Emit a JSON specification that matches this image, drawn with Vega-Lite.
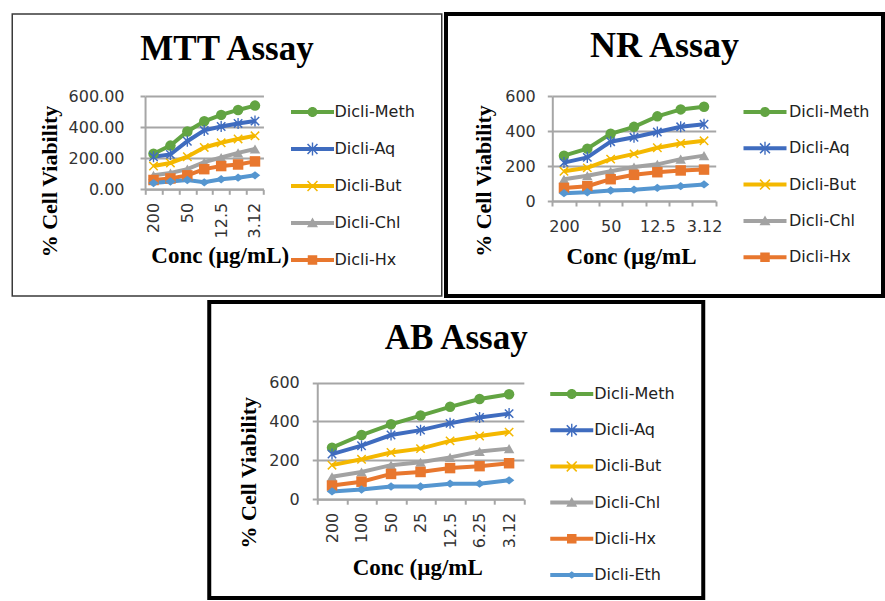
{
  "$schema": "https://vega.github.io/schema/vega-lite/v6.json",
  "background": "white",
  "padding": {"left": 3.25, "top": 12, "right": 0, "bottom": 0},
  "data": {"values": [
    {"assay":"MTT","series":"Dicli-Meth","conc":"200","value":229},
    {"assay":"MTT","series":"Dicli-Meth","conc":"100","value":282},
    {"assay":"MTT","series":"Dicli-Meth","conc":"50","value":373},
    {"assay":"MTT","series":"Dicli-Meth","conc":"25","value":439},
    {"assay":"MTT","series":"Dicli-Meth","conc":"12.5","value":480},
    {"assay":"MTT","series":"Dicli-Meth","conc":"6.25","value":512},
    {"assay":"MTT","series":"Dicli-Meth","conc":"3.12","value":540},
    {"assay":"MTT","series":"Dicli-Aq","conc":"200","value":210},
    {"assay":"MTT","series":"Dicli-Aq","conc":"100","value":225},
    {"assay":"MTT","series":"Dicli-Aq","conc":"50","value":310},
    {"assay":"MTT","series":"Dicli-Aq","conc":"25","value":380},
    {"assay":"MTT","series":"Dicli-Aq","conc":"12.5","value":405},
    {"assay":"MTT","series":"Dicli-Aq","conc":"6.25","value":425},
    {"assay":"MTT","series":"Dicli-Aq","conc":"3.12","value":440},
    {"assay":"MTT","series":"Dicli-But","conc":"200","value":150},
    {"assay":"MTT","series":"Dicli-But","conc":"100","value":170},
    {"assay":"MTT","series":"Dicli-But","conc":"50","value":210},
    {"assay":"MTT","series":"Dicli-But","conc":"25","value":270},
    {"assay":"MTT","series":"Dicli-But","conc":"12.5","value":300},
    {"assay":"MTT","series":"Dicli-But","conc":"6.25","value":325},
    {"assay":"MTT","series":"Dicli-But","conc":"3.12","value":345},
    {"assay":"MTT","series":"Dicli-Chl","conc":"200","value":90},
    {"assay":"MTT","series":"Dicli-Chl","conc":"100","value":105},
    {"assay":"MTT","series":"Dicli-Chl","conc":"50","value":130},
    {"assay":"MTT","series":"Dicli-Chl","conc":"25","value":175},
    {"assay":"MTT","series":"Dicli-Chl","conc":"12.5","value":205},
    {"assay":"MTT","series":"Dicli-Chl","conc":"6.25","value":235},
    {"assay":"MTT","series":"Dicli-Chl","conc":"3.12","value":260},
    {"assay":"MTT","series":"Dicli-Hx","conc":"200","value":60},
    {"assay":"MTT","series":"Dicli-Hx","conc":"100","value":70},
    {"assay":"MTT","series":"Dicli-Hx","conc":"50","value":90},
    {"assay":"MTT","series":"Dicli-Hx","conc":"25","value":130},
    {"assay":"MTT","series":"Dicli-Hx","conc":"12.5","value":150},
    {"assay":"MTT","series":"Dicli-Hx","conc":"6.25","value":160},
    {"assay":"MTT","series":"Dicli-Hx","conc":"3.12","value":180},
    {"assay":"MTT","series":"Dicli-Eth","conc":"200","value":40},
    {"assay":"MTT","series":"Dicli-Eth","conc":"100","value":50},
    {"assay":"MTT","series":"Dicli-Eth","conc":"50","value":60},
    {"assay":"MTT","series":"Dicli-Eth","conc":"25","value":45},
    {"assay":"MTT","series":"Dicli-Eth","conc":"12.5","value":65},
    {"assay":"MTT","series":"Dicli-Eth","conc":"6.25","value":75},
    {"assay":"MTT","series":"Dicli-Eth","conc":"3.12","value":90},
    {"assay":"NR","series":"Dicli-Meth","conc":"200","value":260},
    {"assay":"NR","series":"Dicli-Meth","conc":"100","value":300},
    {"assay":"NR","series":"Dicli-Meth","conc":"50","value":385},
    {"assay":"NR","series":"Dicli-Meth","conc":"25","value":425},
    {"assay":"NR","series":"Dicli-Meth","conc":"12.5","value":485},
    {"assay":"NR","series":"Dicli-Meth","conc":"6.25","value":525},
    {"assay":"NR","series":"Dicli-Meth","conc":"3.12","value":540},
    {"assay":"NR","series":"Dicli-Aq","conc":"200","value":220},
    {"assay":"NR","series":"Dicli-Aq","conc":"100","value":250},
    {"assay":"NR","series":"Dicli-Aq","conc":"50","value":340},
    {"assay":"NR","series":"Dicli-Aq","conc":"25","value":365},
    {"assay":"NR","series":"Dicli-Aq","conc":"12.5","value":395},
    {"assay":"NR","series":"Dicli-Aq","conc":"6.25","value":425},
    {"assay":"NR","series":"Dicli-Aq","conc":"3.12","value":440},
    {"assay":"NR","series":"Dicli-But","conc":"200","value":170},
    {"assay":"NR","series":"Dicli-But","conc":"100","value":190},
    {"assay":"NR","series":"Dicli-But","conc":"50","value":240},
    {"assay":"NR","series":"Dicli-But","conc":"25","value":270},
    {"assay":"NR","series":"Dicli-But","conc":"12.5","value":305},
    {"assay":"NR","series":"Dicli-But","conc":"6.25","value":330},
    {"assay":"NR","series":"Dicli-But","conc":"3.12","value":345},
    {"assay":"NR","series":"Dicli-Chl","conc":"200","value":125},
    {"assay":"NR","series":"Dicli-Chl","conc":"100","value":145},
    {"assay":"NR","series":"Dicli-Chl","conc":"50","value":170},
    {"assay":"NR","series":"Dicli-Chl","conc":"25","value":195},
    {"assay":"NR","series":"Dicli-Chl","conc":"12.5","value":210},
    {"assay":"NR","series":"Dicli-Chl","conc":"6.25","value":240},
    {"assay":"NR","series":"Dicli-Chl","conc":"3.12","value":260},
    {"assay":"NR","series":"Dicli-Hx","conc":"200","value":75},
    {"assay":"NR","series":"Dicli-Hx","conc":"100","value":85},
    {"assay":"NR","series":"Dicli-Hx","conc":"50","value":125},
    {"assay":"NR","series":"Dicli-Hx","conc":"25","value":150},
    {"assay":"NR","series":"Dicli-Hx","conc":"12.5","value":165},
    {"assay":"NR","series":"Dicli-Hx","conc":"6.25","value":175},
    {"assay":"NR","series":"Dicli-Hx","conc":"3.12","value":180},
    {"assay":"NR","series":"Dicli-Eth","conc":"200","value":45},
    {"assay":"NR","series":"Dicli-Eth","conc":"100","value":50},
    {"assay":"NR","series":"Dicli-Eth","conc":"50","value":60},
    {"assay":"NR","series":"Dicli-Eth","conc":"25","value":65},
    {"assay":"NR","series":"Dicli-Eth","conc":"12.5","value":75},
    {"assay":"NR","series":"Dicli-Eth","conc":"6.25","value":85},
    {"assay":"NR","series":"Dicli-Eth","conc":"3.12","value":95},
    {"assay":"AB","series":"Dicli-Meth","conc":"200","value":265},
    {"assay":"AB","series":"Dicli-Meth","conc":"100","value":330},
    {"assay":"AB","series":"Dicli-Meth","conc":"50","value":385},
    {"assay":"AB","series":"Dicli-Meth","conc":"25","value":430},
    {"assay":"AB","series":"Dicli-Meth","conc":"12.5","value":475},
    {"assay":"AB","series":"Dicli-Meth","conc":"6.25","value":515},
    {"assay":"AB","series":"Dicli-Meth","conc":"3.12","value":540},
    {"assay":"AB","series":"Dicli-Aq","conc":"200","value":232},
    {"assay":"AB","series":"Dicli-Aq","conc":"100","value":275},
    {"assay":"AB","series":"Dicli-Aq","conc":"50","value":330},
    {"assay":"AB","series":"Dicli-Aq","conc":"25","value":355},
    {"assay":"AB","series":"Dicli-Aq","conc":"12.5","value":390},
    {"assay":"AB","series":"Dicli-Aq","conc":"6.25","value":420},
    {"assay":"AB","series":"Dicli-Aq","conc":"3.12","value":440},
    {"assay":"AB","series":"Dicli-But","conc":"200","value":175},
    {"assay":"AB","series":"Dicli-But","conc":"100","value":205},
    {"assay":"AB","series":"Dicli-But","conc":"50","value":240},
    {"assay":"AB","series":"Dicli-But","conc":"25","value":260},
    {"assay":"AB","series":"Dicli-But","conc":"12.5","value":300},
    {"assay":"AB","series":"Dicli-But","conc":"6.25","value":325},
    {"assay":"AB","series":"Dicli-But","conc":"3.12","value":345},
    {"assay":"AB","series":"Dicli-Chl","conc":"200","value":115},
    {"assay":"AB","series":"Dicli-Chl","conc":"100","value":140},
    {"assay":"AB","series":"Dicli-Chl","conc":"50","value":175},
    {"assay":"AB","series":"Dicli-Chl","conc":"25","value":190},
    {"assay":"AB","series":"Dicli-Chl","conc":"12.5","value":215},
    {"assay":"AB","series":"Dicli-Chl","conc":"6.25","value":245},
    {"assay":"AB","series":"Dicli-Chl","conc":"3.12","value":260},
    {"assay":"AB","series":"Dicli-Hx","conc":"200","value":70},
    {"assay":"AB","series":"Dicli-Hx","conc":"100","value":90},
    {"assay":"AB","series":"Dicli-Hx","conc":"50","value":130},
    {"assay":"AB","series":"Dicli-Hx","conc":"25","value":140},
    {"assay":"AB","series":"Dicli-Hx","conc":"12.5","value":160},
    {"assay":"AB","series":"Dicli-Hx","conc":"6.25","value":170},
    {"assay":"AB","series":"Dicli-Hx","conc":"3.12","value":185},
    {"assay":"AB","series":"Dicli-Eth","conc":"200","value":40},
    {"assay":"AB","series":"Dicli-Eth","conc":"100","value":50},
    {"assay":"AB","series":"Dicli-Eth","conc":"50","value":65},
    {"assay":"AB","series":"Dicli-Eth","conc":"25","value":65},
    {"assay":"AB","series":"Dicli-Eth","conc":"12.5","value":80},
    {"assay":"AB","series":"Dicli-Eth","conc":"6.25","value":80},
    {"assay":"AB","series":"Dicli-Eth","conc":"3.12","value":97}
  ]},
  "spacing": 2,
  "vconcat": [
    {
      "spacing": 0.75,
      "hconcat": [
        {
          "width": 429.5, "height": 282,
          "view": {"stroke": "#3a3a3a", "strokeWidth": 1.5},
          "title": {"text": "MTT Assay", "offset": -52.5},
          "transform": [{"filter": "datum.assay === 'MTT'"}],
          "encoding": {
            "x": {"field": "conc", "type": "ordinal", "sort": ["200","100","50","25","12.5","6.25","3.12"], "bandPosition": 0.5,
              "scale": {"type": "band", "range": [132.8, 251.2], "paddingInner": 0, "paddingOuter": 0},
              "axis": {"offset": -106.7, "labelAngle": -90, "labelPadding": 8,
                "labelExpr": "indexof(['200','50','12.5','3.12'], datum.label) >= 0 ? datum.label : ''",
                "title": "Conc (µg/mL)", "titleX": 207.5, "titleY": 72.7}},
            "y": {"field": "value", "type": "quantitative",
              "scale": {"domain": [0, 600], "range": [175.3, 82.3], "nice": false},
              "axis": {"offset": -132.8, "values": [0, 200, 400, 600], "format": ".2f", "labelPadding": 16,
                "title": "% Cell Viability", "titleX": -95.5, "titleY": 167}}
          },
          "layer": [
            {"mark": {"type": "line", "strokeWidth": 4},
             "encoding": {"color": {"field": "series", "type": "nominal", "legend": null,
               "scale": {"domain": ["Dicli-Meth","Dicli-Aq","Dicli-But","Dicli-Chl","Dicli-Hx","Dicli-Eth"], "range": ["#62a442","#3f6cbf","#f4b800","#a2a2a2","#e8772e","#5596d0"]}}}},
            {"mark": {"type": "point", "filled": true, "opacity": 1, "size": 110, "strokeWidth": 0},
             "transform": [{"calculate": "datum.series", "as": "mk"}],
             "encoding": {
               "color": {"field": "series", "type": "nominal", "legend": null,
                 "scale": {"domain": ["Dicli-Meth","Dicli-Aq","Dicli-But","Dicli-Chl","Dicli-Hx","Dicli-Eth"], "range": ["#62a442","#3f6cbf","#f4b800","#a2a2a2","#e8772e","#5596d0"]}},
               "shape": {"field": "mk", "type": "nominal", "legend": null,
                 "scale": {"domain": ["Dicli-Meth","Dicli-Aq","Dicli-But","Dicli-Chl","Dicli-Hx","Dicli-Eth"],
                   "range": ["circle",
                     "M0,-0.2L0.7,-0.9L0.9,-0.7L0.2,0L0.9,0.7L0.7,0.9L0,0.2L-0.7,0.9L-0.9,0.7L-0.2,0L-0.9,-0.7L-0.7,-0.9Z M-0.13,-1.05H0.13V1.05H-0.13Z",
                     "M0,-0.2L0.7,-0.9L0.9,-0.7L0.2,0L0.9,0.7L0.7,0.9L0,0.2L-0.7,0.9L-0.9,0.7L-0.2,0L-0.9,-0.7L-0.7,-0.9Z",
                     "triangle-up", "square", "M0,-0.8L1,0L0,0.8L-1,0Z"]}}}},
            {"mark": {"type": "point", "filled": true, "opacity": 1},
             "transform": [{"filter": "false"}],
             "encoding": {
               "color": {"field": "series", "type": "nominal",
                 "scale": {"domain": ["Dicli-Meth","Dicli-Aq","Dicli-But","Dicli-Chl","Dicli-Hx","Dicli-Eth"], "range": ["#62a442","#3f6cbf","#f4b800","#a2a2a2","#e8772e","#5596d0"]},
                 "legend": {"title": null, "values": ["Dicli-Meth","Dicli-Aq","Dicli-But","Dicli-Chl","Dicli-Hx"], "legendX": 292.25, "legendY": 90, "labelOffset": 14}},
               "shape": {"field": "series", "type": "nominal",
                 "scale": {"domain": ["Dicli-Meth","Dicli-Aq","Dicli-But","Dicli-Chl","Dicli-Hx","Dicli-Eth"],
                   "range": [
                     "M-4.3,-0.4H4.3V0.4H-4.3Z M-1,0A1,1 0 1,1 1,0A1,1 0 1,1 -1,0Z",
                     "M-4.3,-0.4H4.3V0.4H-4.3Z M0,-0.22L0.88,-1.1L1.1,-0.88L0.22,0L1.1,0.88L0.88,1.1L0,0.22L-0.88,1.1L-1.1,0.88L-0.22,0L-1.1,-0.88L-0.88,-1.1Z M-0.14,-1.3H0.14V1.3H-0.14Z",
                     "M-4.3,-0.4H4.3V0.4H-4.3Z M0,-0.22L0.88,-1.1L1.1,-0.88L0.22,0L1.1,0.88L0.88,1.1L0,0.22L-0.88,1.1L-1.1,0.88L-0.22,0L-1.1,-0.88L-0.88,-1.1Z",
                     "M-4.3,-0.4H4.3V0.4H-4.3Z M0,-1.1L1.1,0.85L-1.1,0.85Z",
                     "M-4.3,-0.4H4.3V0.4H-4.3Z M-0.95,-0.95H0.95V0.95H-0.95Z",
                     "M-4.3,-0.4H4.3V0.4H-4.3Z M0,-0.75L1,0L0,0.75L-1,0Z"]},
                 "legend": {"title": null, "values": ["Dicli-Meth","Dicli-Aq","Dicli-But","Dicli-Chl","Dicli-Hx"], "legendX": 292.25, "legendY": 90, "labelOffset": 14}}}}
          ],
          "resolve": {"scale": {"color": "independent", "shape": "independent"}}
        },
        {
          "width": 437, "height": 282,
          "view": {"stroke": "#000000", "strokeWidth": 4},
          "title": {"text": "NR Assay", "offset": -51, "fontSize": 36},
          "transform": [{"filter": "datum.assay === 'NR'"}],
          "encoding": {
            "x": {"field": "conc", "type": "ordinal", "sort": ["200","100","50","25","12.5","6.25","3.12"], "bandPosition": 0.5,
              "scale": {"type": "band", "range": [106.3, 269.7], "paddingInner": 0, "paddingOuter": 0},
              "axis": {"offset": -95, "labelAngle": 0, "labelPadding": 12,
                "labelExpr": "indexof(['200','50','12.5','3.12'], datum.label) >= 0 ? datum.label : ''",
                "title": "Conc (µg/mL", "titleX": 185, "titleY": 62}},
            "y": {"field": "value", "type": "quantitative",
              "scale": {"domain": [0, 600], "range": [187, 82.3], "nice": false},
              "axis": {"offset": -106.3, "values": [0, 200, 400, 600], "format": "d", "labelPadding": 12,
                "title": "% Cell Viability", "titleX": -69.3, "titleY": 166.5}}
          },
          "layer": [
            {"mark": {"type": "line", "strokeWidth": 4},
             "encoding": {"color": {"field": "series", "type": "nominal", "legend": null,
               "scale": {"domain": ["Dicli-Meth","Dicli-Aq","Dicli-But","Dicli-Chl","Dicli-Hx","Dicli-Eth"], "range": ["#62a442","#3f6cbf","#f4b800","#a2a2a2","#e8772e","#5596d0"]}}}},
            {"mark": {"type": "point", "filled": true, "opacity": 1, "size": 110, "strokeWidth": 0},
             "transform": [{"calculate": "datum.series", "as": "mk"}],
             "encoding": {
               "color": {"field": "series", "type": "nominal", "legend": null,
                 "scale": {"domain": ["Dicli-Meth","Dicli-Aq","Dicli-But","Dicli-Chl","Dicli-Hx","Dicli-Eth"], "range": ["#62a442","#3f6cbf","#f4b800","#a2a2a2","#e8772e","#5596d0"]}},
               "shape": {"field": "mk", "type": "nominal", "legend": null,
                 "scale": {"domain": ["Dicli-Meth","Dicli-Aq","Dicli-But","Dicli-Chl","Dicli-Hx","Dicli-Eth"],
                   "range": ["circle",
                     "M0,-0.2L0.7,-0.9L0.9,-0.7L0.2,0L0.9,0.7L0.7,0.9L0,0.2L-0.7,0.9L-0.9,0.7L-0.2,0L-0.9,-0.7L-0.7,-0.9Z M-0.13,-1.05H0.13V1.05H-0.13Z",
                     "M0,-0.2L0.7,-0.9L0.9,-0.7L0.2,0L0.9,0.7L0.7,0.9L0,0.2L-0.7,0.9L-0.9,0.7L-0.2,0L-0.9,-0.7L-0.7,-0.9Z",
                     "triangle-up", "square", "M0,-0.8L1,0L0,0.8L-1,0Z"]}}}},
            {"mark": {"type": "point", "filled": true, "opacity": 1},
             "transform": [{"filter": "false"}],
             "encoding": {
               "color": {"field": "series", "type": "nominal",
                 "scale": {"domain": ["Dicli-Meth","Dicli-Aq","Dicli-But","Dicli-Chl","Dicli-Hx","Dicli-Eth"], "range": ["#62a442","#3f6cbf","#f4b800","#a2a2a2","#e8772e","#5596d0"]},
                 "legend": {"title": null, "values": ["Dicli-Meth","Dicli-Aq","Dicli-But","Dicli-Chl","Dicli-Hx"], "legendX": 311, "legendY": 90, "labelOffset": 16, "rowPadding": 20.3}},
               "shape": {"field": "series", "type": "nominal",
                 "scale": {"domain": ["Dicli-Meth","Dicli-Aq","Dicli-But","Dicli-Chl","Dicli-Hx","Dicli-Eth"],
                   "range": [
                     "M-4.3,-0.4H4.3V0.4H-4.3Z M-1,0A1,1 0 1,1 1,0A1,1 0 1,1 -1,0Z",
                     "M-4.3,-0.4H4.3V0.4H-4.3Z M0,-0.22L0.88,-1.1L1.1,-0.88L0.22,0L1.1,0.88L0.88,1.1L0,0.22L-0.88,1.1L-1.1,0.88L-0.22,0L-1.1,-0.88L-0.88,-1.1Z M-0.14,-1.3H0.14V1.3H-0.14Z",
                     "M-4.3,-0.4H4.3V0.4H-4.3Z M0,-0.22L0.88,-1.1L1.1,-0.88L0.22,0L1.1,0.88L0.88,1.1L0,0.22L-0.88,1.1L-1.1,0.88L-0.22,0L-1.1,-0.88L-0.88,-1.1Z",
                     "M-4.3,-0.4H4.3V0.4H-4.3Z M0,-1.1L1.1,0.85L-1.1,0.85Z",
                     "M-4.3,-0.4H4.3V0.4H-4.3Z M-0.95,-0.95H0.95V0.95H-0.95Z",
                     "M-4.3,-0.4H4.3V0.4H-4.3Z M0,-0.75L1,0L0,0.75L-1,0Z"]},
                 "legend": {"title": null, "values": ["Dicli-Meth","Dicli-Aq","Dicli-But","Dicli-Chl","Dicli-Hx"], "legendX": 311, "legendY": 90, "labelOffset": 16, "rowPadding": 20.3}}}}
          ],
          "resolve": {"scale": {"color": "independent", "shape": "independent"}}
        }
      ]
    },
    {
      "spacing": 0,
      "hconcat": [
        {"width": 186.2, "height": 1, "data": {"values": []}, "mark": "point"},
        {
          "width": 494, "height": 296,
          "view": {"stroke": "#000000", "strokeWidth": 4},
          "title": {"text": "AB Assay", "offset": -54},
          "transform": [{"filter": "datum.assay === 'AB'"}],
          "encoding": {
            "x": {"field": "conc", "type": "ordinal", "sort": ["200","100","50","25","12.5","6.25","3.12"], "bandPosition": 0.5,
              "scale": {"type": "band", "range": [108, 314.6], "paddingInner": 0, "paddingOuter": 0},
              "axis": {"offset": -98.8, "labelAngle": -90, "labelPadding": 8,
                "title": "Conc (µg/mL", "titleX": 208, "titleY": 75}},
            "y": {"field": "value", "type": "quantitative",
              "scale": {"domain": [0, 600], "range": [197.2, 80.5], "nice": false},
              "axis": {"offset": -108, "values": [0, 200, 400, 600], "format": "d", "labelPadding": 13,
                "title": "% Cell Viability", "titleX": -68.5, "titleY": 170.2}}
          },
          "layer": [
            {"mark": {"type": "line", "strokeWidth": 4},
             "encoding": {"color": {"field": "series", "type": "nominal", "legend": null,
               "scale": {"domain": ["Dicli-Meth","Dicli-Aq","Dicli-But","Dicli-Chl","Dicli-Hx","Dicli-Eth"], "range": ["#62a442","#3f6cbf","#f4b800","#a2a2a2","#e8772e","#5596d0"]}}}},
            {"mark": {"type": "point", "filled": true, "opacity": 1, "size": 110, "strokeWidth": 0},
             "transform": [{"calculate": "datum.series", "as": "mk"}],
             "encoding": {
               "color": {"field": "series", "type": "nominal", "legend": null,
                 "scale": {"domain": ["Dicli-Meth","Dicli-Aq","Dicli-But","Dicli-Chl","Dicli-Hx","Dicli-Eth"], "range": ["#62a442","#3f6cbf","#f4b800","#a2a2a2","#e8772e","#5596d0"]}},
               "shape": {"field": "mk", "type": "nominal", "legend": null,
                 "scale": {"domain": ["Dicli-Meth","Dicli-Aq","Dicli-But","Dicli-Chl","Dicli-Hx","Dicli-Eth"],
                   "range": ["circle",
                     "M0,-0.2L0.7,-0.9L0.9,-0.7L0.2,0L0.9,0.7L0.7,0.9L0,0.2L-0.7,0.9L-0.9,0.7L-0.2,0L-0.9,-0.7L-0.7,-0.9Z M-0.13,-1.05H0.13V1.05H-0.13Z",
                     "M0,-0.2L0.7,-0.9L0.9,-0.7L0.2,0L0.9,0.7L0.7,0.9L0,0.2L-0.7,0.9L-0.9,0.7L-0.2,0L-0.9,-0.7L-0.7,-0.9Z",
                     "triangle-up", "square", "M0,-0.8L1,0L0,0.8L-1,0Z"]}}}},
            {"mark": {"type": "point", "filled": true, "opacity": 1},
             "transform": [{"filter": "false"}],
             "encoding": {
               "color": {"field": "series", "type": "nominal",
                 "scale": {"domain": ["Dicli-Meth","Dicli-Aq","Dicli-But","Dicli-Chl","Dicli-Hx","Dicli-Eth"], "range": ["#62a442","#3f6cbf","#f4b800","#a2a2a2","#e8772e","#5596d0"]},
                 "legend": {"title": null, "legendX": 354.5, "legendY": 84, "labelOffset": 14.5, "rowPadding": 20.2}},
               "shape": {"field": "series", "type": "nominal",
                 "scale": {"domain": ["Dicli-Meth","Dicli-Aq","Dicli-But","Dicli-Chl","Dicli-Hx","Dicli-Eth"],
                   "range": [
                     "M-4.3,-0.4H4.3V0.4H-4.3Z M-1,0A1,1 0 1,1 1,0A1,1 0 1,1 -1,0Z",
                     "M-4.3,-0.4H4.3V0.4H-4.3Z M0,-0.22L0.88,-1.1L1.1,-0.88L0.22,0L1.1,0.88L0.88,1.1L0,0.22L-0.88,1.1L-1.1,0.88L-0.22,0L-1.1,-0.88L-0.88,-1.1Z M-0.14,-1.3H0.14V1.3H-0.14Z",
                     "M-4.3,-0.4H4.3V0.4H-4.3Z M0,-0.22L0.88,-1.1L1.1,-0.88L0.22,0L1.1,0.88L0.88,1.1L0,0.22L-0.88,1.1L-1.1,0.88L-0.22,0L-1.1,-0.88L-0.88,-1.1Z",
                     "M-4.3,-0.4H4.3V0.4H-4.3Z M0,-1.1L1.1,0.85L-1.1,0.85Z",
                     "M-4.3,-0.4H4.3V0.4H-4.3Z M-0.95,-0.95H0.95V0.95H-0.95Z",
                     "M-4.3,-0.4H4.3V0.4H-4.3Z M0,-0.75L1,0L0,0.75L-1,0Z"]},
                 "legend": {"title": null, "legendX": 354.5, "legendY": 84, "labelOffset": 14.5, "rowPadding": 20.2}}}}
          ],
          "resolve": {"scale": {"color": "independent", "shape": "independent"}}
        }
      ]
    }
  ],
  "config": {
    "view": {"stroke": null},
    "font": "DejaVu Sans",
    "title": {"font": "Liberation Serif", "fontSize": 35, "fontWeight": "bold", "color": "#000000", "anchor": "middle", "frame": "group", "baseline": "alphabetic"},
    "axis": {"domainColor": "#a6a6a6", "domainWidth": 2, "tickColor": "#a6a6a6", "tickWidth": 2, "tickSize": 5,
      "gridColor": "#a6a6a6", "gridWidth": 2, "labelFont": "DejaVu Sans", "labelFontSize": 16, "labelColor": "#333333",
      "labelOverlap": false, "titleFont": "Liberation Serif", "titleFontWeight": "bold", "titleColor": "#000000"},
    "axisX": {"grid": false, "tickBand": "extent", "titleFontSize": 23, "titleBaseline": "alphabetic", "titleAlign": "center"},
    "axisY": {"grid": true, "titleFontSize": 22, "titleAngle": -90, "titleBaseline": "middle", "titleAlign": "center"},
    "legend": {"orient": "none", "symbolSize": 100, "symbolStrokeWidth": 0, "labelFont": "DejaVu Sans", "labelFontSize": 16,
      "labelColor": "#222222", "padding": 0, "rowPadding": 21, "symbolOffset": 0}
  }
}
